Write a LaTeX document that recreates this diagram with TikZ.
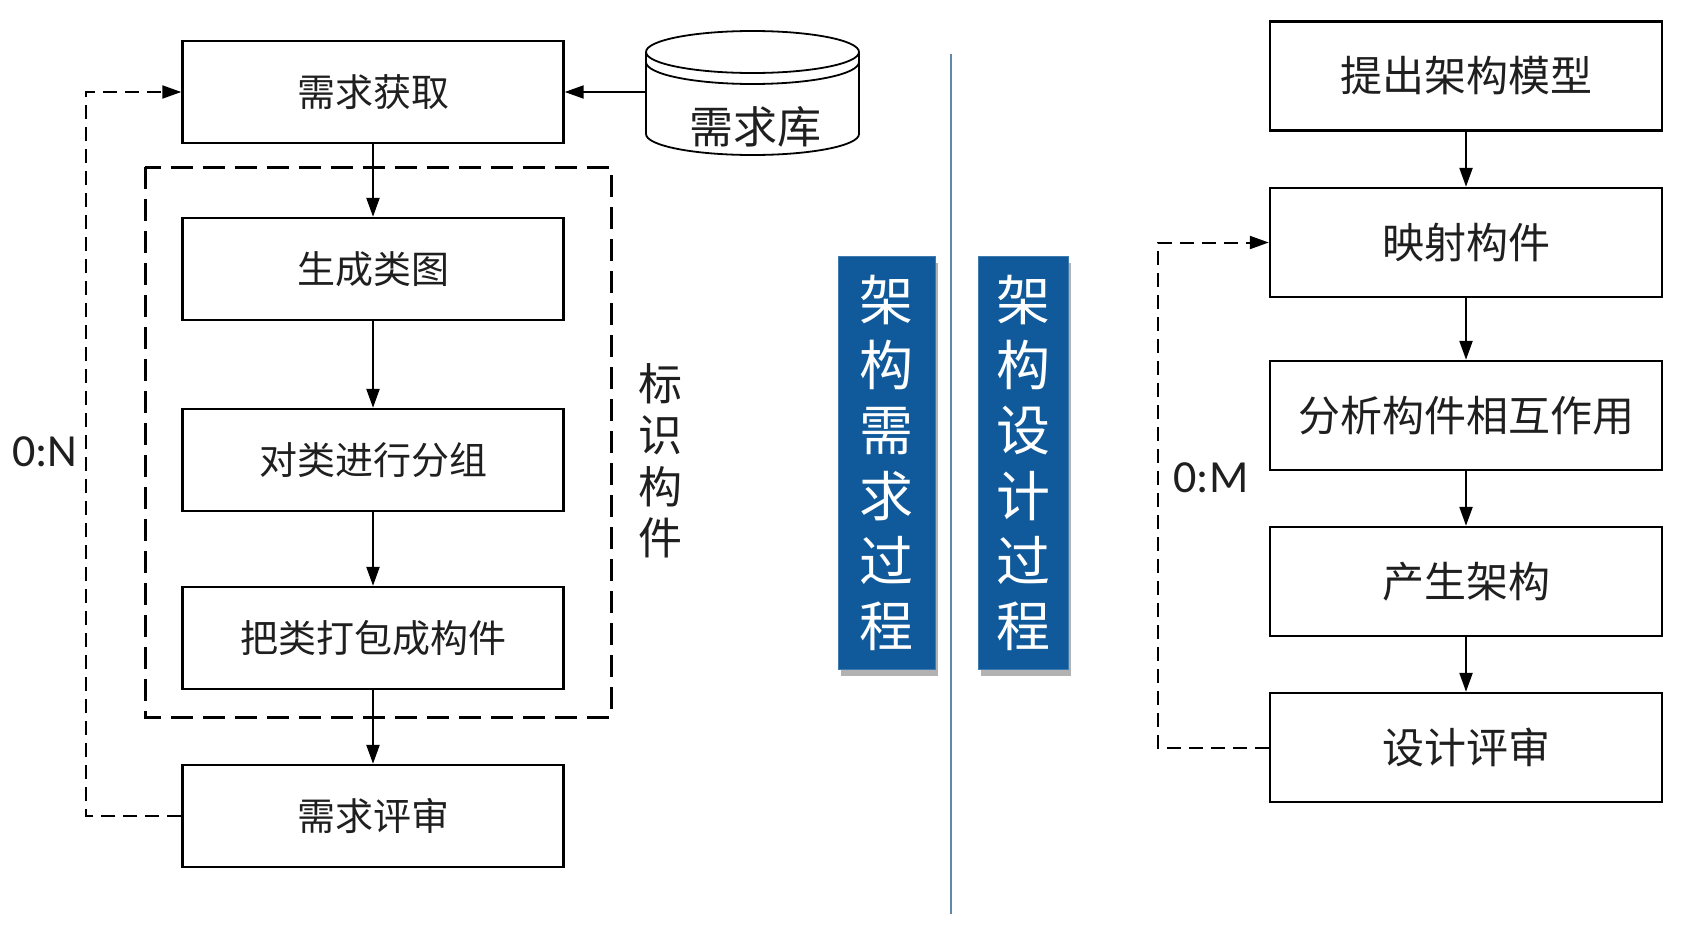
\documentclass[tikz,border=0pt]{standalone}
\usepackage{fontspec}
\newfontfamily\cjk{Noto Sans CJK SC}
\newfontfamily\latin{Carlito}
\usetikzlibrary{arrows.meta,shadows}
\definecolor{procblue}{RGB}{16,90,155}
\definecolor{splitline}{RGB}{90,138,176}

\begin{document}
\begin{tikzpicture}[
    x=1pt, y=-1pt,
    every node/.style={font=\cjk},
    stage/.style={draw, line width=2.4pt, minimum width=381pt, minimum height=102pt,
      inner sep=0pt, text=black!88, font=\cjk\fontsize{38}{44}\selectfont},
    dstage/.style={stage, minimum width=392pt, minimum height=109pt,
      font=\cjk\fontsize{42}{48}\selectfont},
    phase/.style={fill=procblue, draw=procblue!80!white, line width=1pt, text=white,
      align=center, inner sep=0pt, minimum height=413pt,
      font=\cjk\fontsize{54}{65.2}\selectfont,
      drop shadow={shadow xshift=3pt, shadow yshift=-6pt, fill=black, opacity=0.3}},
    flow/.style={-{Triangle[length=19pt,width=13pt]}, line width=2.3pt},
    back/.style={flow, line width=2pt, dash pattern=on 14pt off 8pt},
  ]
  \useasboundingbox[fill=white] (0,0) rectangle (1696,924);

  % requirements side
  \node[stage] (get) at (373,92) {需求获取};
  \node[stage] (cls) at (373,269) {生成类图};
  \node[stage] (grp) at (373,460) {对类进行分组};
  \node[stage] (pkg) at (373,638) {把类打包成构件};
  \node[stage] (rev) at (373,816) {需求评审};
  \draw[line width=3pt, dash pattern=on 22pt off 10pt] (145,167) rectangle (611,717);
  \node[align=center, text=black!88, font=\cjk\fontsize{44}{51.5}\selectfont] (ident) at (660,461) {标\\识\\构\\件};

  % requirement library
  \draw[line width=1.8pt] (752.5,52) ellipse [x radius=106.5pt, y radius=21pt];
  \draw[line width=1.8pt] (646,52) -- (646,134) arc [start angle=180, end angle=360, x radius=106.5pt, y radius=21pt] -- (859,52);
  \draw[line width=1.8pt] (646,62) arc [start angle=180, end angle=360, x radius=106.5pt, y radius=22pt];
  \node[text=black!88, font=\cjk\fontsize{44}{50}\selectfont] (lib) at (755,127) {需求库};
  \coordinate (libside) at (646,92);

  \draw[flow, line width=2pt] (libside) -- (get.east);
  \draw[flow] (get) -- (cls);
  \draw[flow] (cls) -- (grp);
  \draw[flow] (grp) -- (pkg);
  \draw[flow] (pkg) -- (rev);
  \draw[back] (rev.west) -- ++(-95,0) |- (get.west);
  \node[text=black!88, font=\latin\fontsize{46}{50}\selectfont] (nloop) at (45,452) {0:N};

  % the two phases
  \draw[splitline, line width=2.5pt] (951,54) -- (951,914);
  \node[phase, minimum width=97pt] (reqp) at (886.5,463) {架\\构\\需\\求\\过\\程};
  \node[phase, minimum width=90pt] (desp) at (1023,463) {架\\构\\设\\计\\过\\程};

  % design side
  \node[dstage] (model) at (1466,76) {提出架构模型};
  \node[dstage] (map) at (1466,242.5) {映射构件};
  \node[dstage] (ana) at (1466,415.5) {分析构件相互作用};
  \node[dstage] (gen) at (1466,581.5) {产生架构};
  \node[dstage] (drev) at (1466,747.5) {设计评审};
  \draw[flow] (model) -- (map);
  \draw[flow] (map) -- (ana);
  \draw[flow] (ana) -- (gen);
  \draw[flow] (gen) -- (drev);
  \draw[back] (drev.west) -- ++(-111,0) |- (map.west);
  \node[text=black!88, font=\latin\fontsize{46}{50}\selectfont] (mloop) at (1211,478) {0:M};
\end{tikzpicture}
\end{document}
